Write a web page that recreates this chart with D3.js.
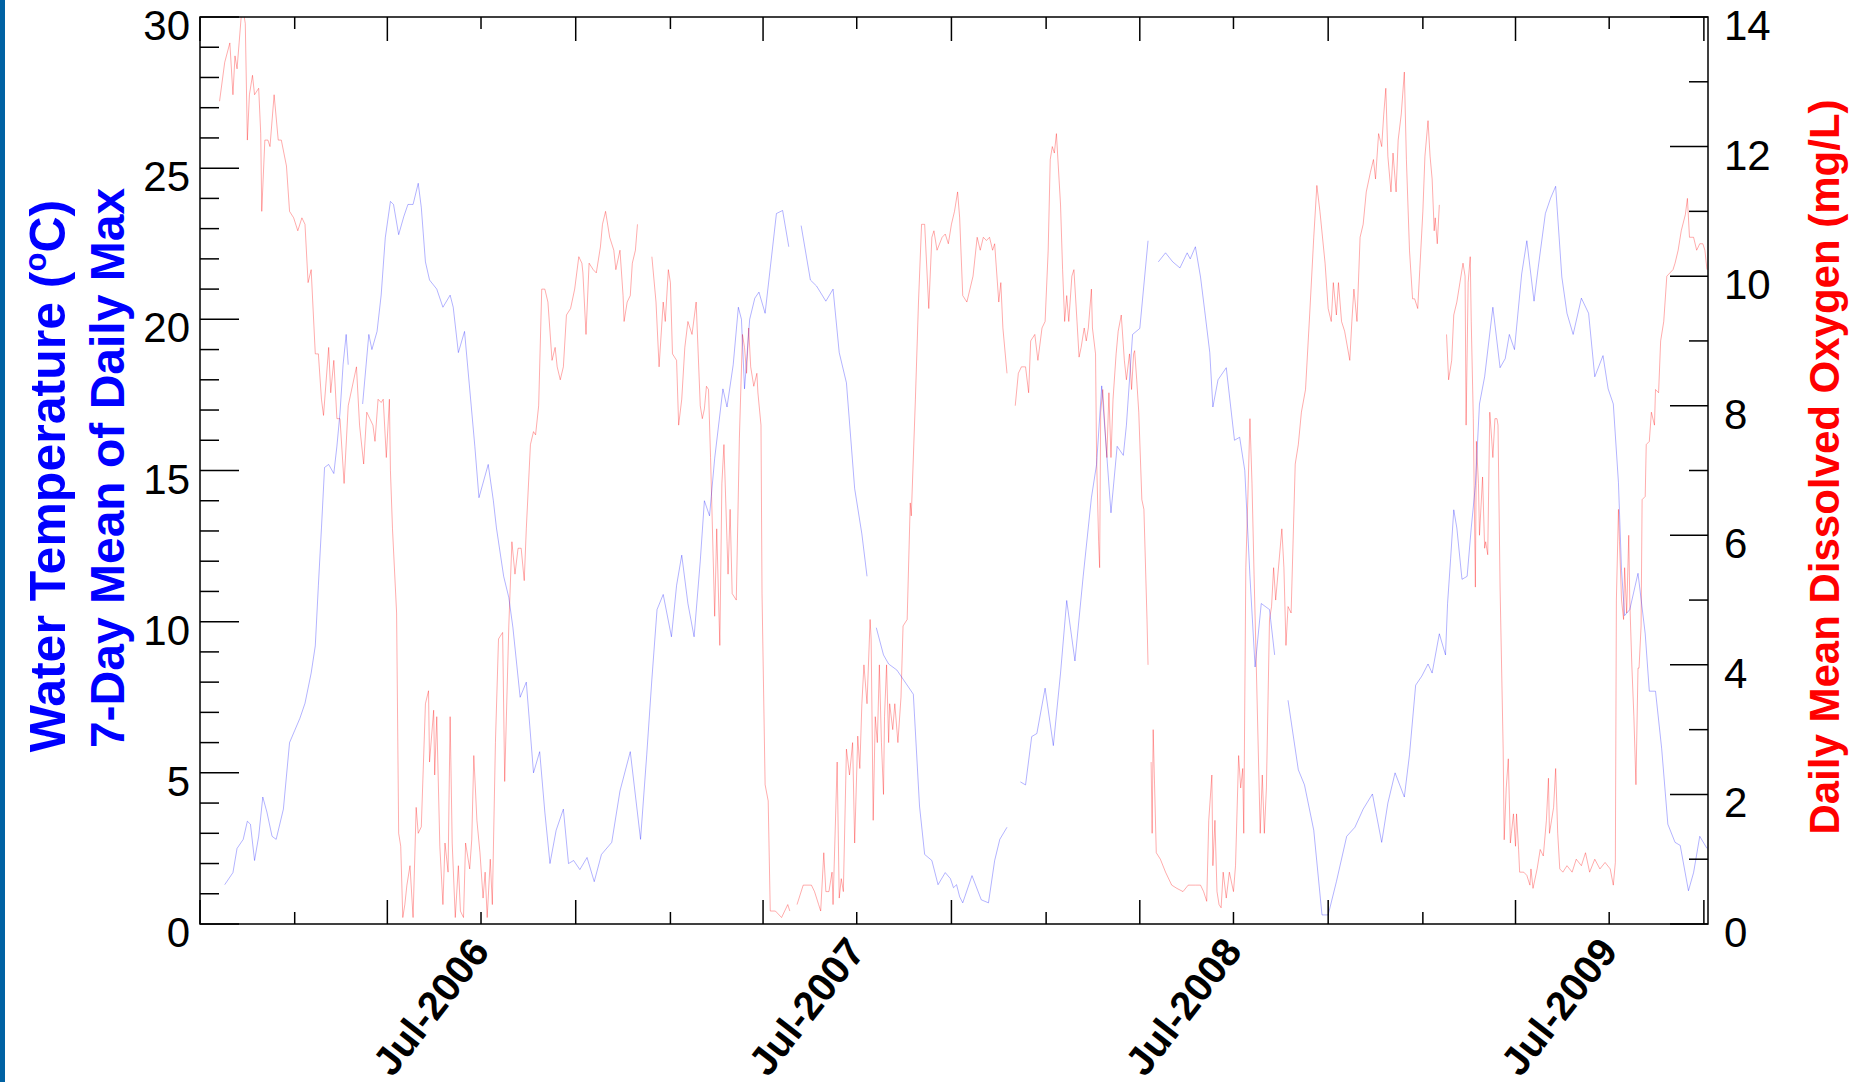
<!DOCTYPE html>
<html>
<head>
<meta charset="utf-8">
<script src="https://cdn.jsdelivr.net/npm/d3@7"></script>
<style>
  body { margin: 0; background: #fff; }
  svg { display: block; font-family: "Liberation Sans", Arial, Helvetica, sans-serif; }
</style>
</head>
<body>
<svg id="chart" width="1854" height="1082"></svg>
<script>
// record starts 1 Oct 2005, values are keyed by day number from there
var startDate = new Date(Date.UTC(2005, 9, 1));
var endDate = new Date(Date.UTC(2009, 9, 5));

// water temperature, 7-day mean of daily max (degC); null = gap in record
var tempDays = [24, 32, 36, 42, 46, 49, 53, 57, 61, 65, 70, 74, 81, 87, 92, 97, 102, 108, 112, 115, 118, 121, 125, 130, 133, 136, 139, 142, 144, 150,
  158, 164, 167, 172, 176, 180, 185, 188, 193, 198, 202, 207, 212, 215, 219, 223, 230, 236, 243, 246, 251, 257, 262, 267, 271, 280, 285, 288, 295, 300,
  304, 311, 317, 324, 330, 335, 340, 346, 353, 358, 363, 369, 376, 383, 390, 400, 408, 418, 428, 434, 439, 444, 450, 458, 463, 468, 474, 480, 486, 490,
  495, 500, 508, 512, 518, 523, 526, 529, 534, 539, 543, 549, 554, 560, 566, 572, 578, 584, 593, 599, 608, 615, 621, 628, 636, 643, 648, 652, 657, 664,
  669, 677, 683, 693, 699, 704, 711, 717, 724, 729, 732, 735, 738, 741, 750, 759, 766, 772, 777, 784, 790, 797, 802, 808, 813, 821, 829, 836, 842, 850,
  858, 866, 871, 876, 885, 891, 897, 900, 906, 913, 921, 926, 931, 938, 945, 952, 959, 962, 967, 972, 976, 981, 984, 989, 997, 1005, 1010, 1015, 1020, 1025,
  1031, 1039, 1044, 1050, 1057, 1067, 1073, 1082, 1090, 1096, 1104, 1114, 1122, 1130, 1139, 1148, 1154, 1161, 1170, 1175, 1181, 1187, 1193, 1197, 1204, 1210, 1212, 1215, 1218, 1221,
  1226, 1231, 1235, 1239, 1243, 1248, 1256, 1263, 1268, 1272, 1277, 1284, 1289, 1296, 1300, 1307, 1312, 1317, 1323, 1328, 1334, 1342, 1349, 1355, 1363, 1368, 1373, 1378, 1381, 1384,
  1389, 1397, 1404, 1408, 1414, 1420, 1426, 1433, 1438, 1446, 1451, 1457, 1464];
var tempValues = [1.3, 1.7, 2.5, 2.8, 3.4, 3.3, 2.1, 2.9, 4.2, 3.7, 2.9, 2.8, 3.8, 6.0, 6.4, 6.8, 7.3, 8.3, 9.2, 11.2, 13.1, 15.1, 15.2, 14.9, 15.8, 16.9, 18.5, 19.5, 18.5, null,
  17.2, 19.5, 19.0, 19.6, 20.8, 22.7, 23.9, 23.8, 22.8, 23.4, 23.8, 23.8, 24.5, 23.7, 21.9, 21.3, 21.0, 20.4, 20.8, 20.4, 18.9, 19.6, 17.7, 15.8, 14.1, 15.2, 14.0, 13.1, 11.5, 10.8,
  9.8, 7.5, 8.0, 5.0, 5.7, 3.7, 2.0, 3.1, 3.8, 2.0, 2.1, 1.8, 2.2, 1.4, 2.3, 2.7, 4.4, 5.7, 2.8, 5.6, 8.1, 10.4, 10.9, 9.5, 11.2, 12.2, 10.6, 9.5, 12.0, 14.0,
  13.5, 15.4, 17.7, 17.1, 18.5, 20.4, 20.0, 17.7, 20.0, 20.7, 20.9, 20.2, 21.7, 23.5, 23.6, 22.4, null, 23.1, 21.3, 21.1, 20.6, 21.0, 18.9, 17.9, 14.4, 12.9, 11.5, null, 9.8, 8.9,
  8.6, 8.4, 8.1, 7.6, 3.9, 2.3, 2.1, 1.3, 1.7, 1.5, 1.2, 1.3, 0.9, 0.7, 1.6, 0.8, 0.7, 2.1, 2.8, 3.2, null, 4.7, 4.6, 6.2, 6.3, 7.8, 5.9, 8.3, 10.7, 8.7,
  11.5, 14.1, 15.2, 17.8, 13.6, 15.8, 15.5, 16.5, 19.5, 19.7, 22.6, null, 21.9, 22.2, 21.9, 21.7, 22.2, 22.0, 22.4, 21.4, 20.3, 18.9, 17.1, 18.0, 18.4, 16.0, 16.1, 15.0, 11.5, 8.5,
  10.6, 10.4, 8.9, null, 7.4, 5.1, 4.6, 3.1, 0.3, 0.3, 1.4, 2.9, 3.2, 3.8, 4.3, 2.7, 4.0, 5.0, 4.2, 5.6, 7.9, 8.2, 8.6, 8.3, 9.6, 8.9, 10.6, 12.1, 13.7, 13.1,
  11.4, 11.5, 13.1, 14.5, 17.2, 18.1, 20.4, 18.4, 18.7, 19.5, 19.0, 21.5, 22.6, 20.6, 21.7, 23.5, 24.0, 24.4, 21.4, 20.2, 19.5, 20.7, 20.2, 18.1, 18.8, 17.7, 17.2, 14.6, 11.7, 10.2,
  10.4, 11.6, 9.6, 7.7, 7.7, 5.8, 3.3, 2.7, 2.6, 1.1, 1.7, 2.9, 2.5];

// daily mean dissolved oxygen (mg/L); null = gap in record
var doDays = [19, 24, 29, 32, 34, 36, 38, 41, 44, 46, 48, 51, 53, 57, 59, 60, 63, 66, 68, 72, 76, 79, 84, 87, 91, 95, 99, 102, 105, 108,
  112, 115, 118, 120, 125, 127, 130, 133, 136, 140, 144, 152, 155, 159, 162, 165, 168, 170, 173, 176, 178, 181, 184, 185, 187, 191, 193, 195, 197, 199,
  201, 204, 207, 210, 212, 215, 219, 222, 223, 227, 228, 230, 233, 236, 238, 241, 243, 245, 248, 251, 253, 256, 258, 262, 264, 266, 269, 272, 275, 277,
  279, 282, 284, 287, 290, 294, 296, 300, 303, 306, 309, 312, 315, 317, 321, 324, 326, 329, 332, 335, 338, 342, 345, 347, 350, 353, 356, 360, 364, 368,
  371, 372, 375, 378, 382, 385, 389, 391, 394, 398, 402, 404, 408, 411, 412, 415, 418, 420, 423, 425, 430, 439, 443, 446, 450, 452, 455, 457, 459, 463,
  465, 468, 471, 474, 478, 482, 484, 486, 488, 490, 492, 494, 496, 497, 500, 502, 505, 507, 509, 512, 513, 515, 517, 521, 524, 527, 529, 531, 533, 535,
  538, 541, 542, 545, 546, 549, 552, 554, 559, 565, 568, 571, 573, 576, 580, 586, 594, 597, 601, 603, 606, 608, 611, 614, 615, 619, 621, 623, 625, 628,
  631, 634, 636, 639, 641, 643, 645, 648, 651, 652, 654, 656, 658, 660, 662, 664, 665, 667, 669, 670, 673, 675, 678, 681, 683, 687, 690, 691, 695, 698,
  701, 704, 708, 711, 713, 716, 721, 724, 727, 730, 733, 736, 738, 741, 745, 748, 751, 755, 758, 761, 764, 767, 770, 772, 776, 778, 780, 784, 788, 792,
  795, 798, 802, 805, 807, 811, 814, 818, 821, 824, 826, 828, 830, 832, 836, 838, 840, 842, 844, 847, 849, 852, 854, 856, 859, 861, 863, 866, 867, 870,
  871, 873, 874, 875, 877, 879, 881, 883, 885, 887, 890, 892, 895, 898, 900, 903, 905, 907, 908, 910, 912, 915, 917, 920, 921, 922, 924, 925, 926, 929,
  933, 938, 944, 949, 955, 960, 967, 972, 975, 978, 980, 983, 984, 986, 988, 990, 992, 994, 997, 1000, 1004, 1006, 1009, 1011, 1013, 1014, 1016, 1018, 1020, 1022,
  1024, 1026, 1030, 1032, 1034, 1036, 1039, 1041, 1043, 1045, 1051, 1053, 1055, 1057, 1060, 1064, 1067, 1070, 1074, 1078, 1082, 1085, 1088, 1093, 1096, 1099, 1101, 1104, 1106, 1109,
  1112, 1117, 1119, 1121, 1124, 1127, 1130, 1133, 1137, 1140, 1142, 1145, 1148, 1150, 1152, 1154, 1157, 1159, 1162, 1164, 1167, 1170, 1172, 1175, 1178, 1180, 1183, 1185, 1188, 1190,
  1193, 1195, 1197, 1199, 1200, 1202, 1204, 1207, 1211, 1213, 1216, 1218, 1221, 1224, 1227, 1229, 1230, 1232, 1234, 1235, 1237, 1239, 1240, 1242, 1243, 1246, 1248, 1249, 1251, 1253,
  1255, 1256, 1258, 1260, 1261, 1263, 1266, 1267, 1269, 1271, 1273, 1274, 1276, 1278, 1279, 1281, 1282, 1286, 1289, 1292, 1293, 1295, 1299, 1302, 1305, 1308, 1310, 1311, 1313, 1315,
  1317, 1319, 1321, 1324, 1328, 1333, 1337, 1342, 1346, 1350, 1355, 1360, 1365, 1370, 1373, 1375, 1376, 1378, 1379, 1381, 1383, 1384, 1386, 1388, 1389, 1391, 1393, 1395, 1397, 1398,
  1400, 1401, 1404, 1405, 1408, 1410, 1413, 1414, 1417, 1419, 1422, 1425, 1428, 1431, 1433, 1436, 1439, 1443, 1445, 1447, 1451, 1454, 1457, 1460, 1462, 1464];
var doValues = [12.7, 13.3, 13.6, 12.8, 13.4, 13.2, 13.6, 14.2, 13.9, 12.1, 12.8, 13.1, 12.8, 12.9, 12.2, 11.0, 12.1, 12.1, 12.0, 12.8, 12.1, 12.1, 11.7, 11.0, 10.9, 10.7, 10.9, 10.8, 9.9, 10.1,
  8.8, 8.8, 8.1, 7.85, 8.9, 8.2, 8.7, 7.8, 7.8, 6.8, 8.0, 8.6, 7.7, 7.1, 7.9, 7.8, 7.7, 7.45, 8.1, 8.05, 8.1, 7.2, 8.1, 7.0, 6.1, 4.8, 1.4, 1.2, 0.1, 0.3,
  0.6, 0.9, 0.1, 1.8, 1.4, 1.5, 3.4, 3.6, 2.5, 3.3, 2.3, 3.2, 1.2, 0.3, 1.25, 0.8, 3.2, 1.25, 0.1, 0.9, 0.2, 0.1, 1.25, 0.85, 1.3, 2.6, 1.6, 1.1, 0.4, 0.8,
  0.1, 1.0, 0.3, 2.8, 4.4, 4.5, 2.2, 4.6, 5.9, 5.4, 5.8, 5.8, 5.3, 6.1, 7.4, 7.6, 7.55, 8.0, 9.8, 9.8, 9.6, 8.7, 8.9, 8.6, 8.4, 8.6, 9.4, 9.5, 9.8, 10.3,
  10.2, 10.05, 9.1, 10.2, 10.1, 10.05, 10.45, 10.8, 11.0, 10.6, 10.4, 10.1, 10.4, 9.7, 9.3, 9.6, 9.7, 10.2, 10.4, 10.8, null, 10.3, 9.6, 8.6, 9.6, 9.3, 10.1, 9.9, 8.8, 8.7,
  7.7, 8.1, 8.9, 9.3, 9.1, 9.6, 8.8, 8.0, 7.8, 7.95, 8.3, 8.25, 7.2, 6.6, 4.75, 6.1, 4.3, 6.8, 7.4, 5.9, 5.4, 6.4, 5.1, 5.0, 7.5, 9.1, 8.9, 8.5, 9.2, 8.6,
  8.3, 8.5, 8.2, 7.7, 5.1, 2.15, 1.9, 0.2, 0.2, 0.1, 0.2, 0.3, 0.2, null, 0.3, 0.6, 0.6, 0.5, 0.3, 0.2, 1.1, 0.5, 0.5, 0.8, 0.3, 2.5, 0.4, 0.7, 0.5, 2.7,
  2.3, 2.8, 1.25, 2.9, 2.4, 3.4, 4.0, 3.4, 4.7, 4.4, 1.6, 3.2, 2.8, 4.0, 2.8, 2.0, 3.2, 4.0, 2.8, 3.4, 3.0, 3.4, 2.8, 3.5, 4.6, 4.7, 6.5, 6.3, 8.1, 9.6,
  10.8, 10.8, 9.5, 10.6, 10.7, 10.4, 10.6, 10.65, 10.5, 10.8, 11.0, 11.3, 10.9, 9.7, 9.6, 9.8, 10.0, 10.6, 10.4, 10.6, 10.55, 10.6, 10.4, 10.5, 9.6, 9.9, 9.2, 8.5, null, 8.0,
  8.5, 8.6, 8.6, 8.2, 9.0, 9.1, 8.7, 9.2, 9.3, 10.4, 11.8, 12.0, 11.9, 12.2, 11.1, 10.1, 9.3, 9.7, 9.3, 10.0, 10.1, 9.3, 8.75, 8.9, 9.2, 9.0, 9.2, 9.8, 9.2, 8.8,
  7.2, 5.9, 5.5, 7.9, 8.25, 7.7, 7.2, 8.2, 7.2, 8.1, 8.8, 9.15, 9.4, 8.7, 8.4, 8.8, 8.25, 8.8, 8.85, 8.4, 7.9, 6.55, 6.4, 4.7, 4.0, null, 2.5, 1.4, 3.0, 1.1,
  1.0, 0.8, 0.6, 0.55, 0.5, 0.6, 0.6, 0.6, 0.5, 0.35, 1.6, 2.3, 0.9, 1.6, 0.5, 0.3, 0.25, 0.8, 0.4, 0.8, 0.5, 0.9, 2.6, 2.1, 2.4, 1.4, 5.5, 6.6, 7.8, 6.8,
  5.4, 4.1, 1.4, 2.3, 1.4, 2.1, 4.7, 4.9, 5.5, 5.0, 6.1, 5.5, 4.3, 4.9, 4.8, 7.1, 7.4, 7.9, 8.25, 9.4, 10.6, 11.4, 11.0, 10.2, 9.5, 9.3, 9.9, 9.4, 9.9, 9.3,
  9.15, 8.7, 9.3, 9.8, 9.3, 10.6, 10.8, 11.3, 11.6, 11.8, 11.5, 12.2, 12.0, 12.5, 12.9, 11.85, 11.3, 11.9, 11.3, 12.1, 12.5, 13.15, 11.8, 10.4, 9.65, 9.65, 9.5, 10.1, 11.0, 11.85,
  12.4, 11.85, 11.5, 10.7, 10.9, 10.5, 11.1, null, 9.1, 8.4, 8.7, 9.4, 9.6, 9.9, 10.2, 10.0, 7.7, 9.9, 10.3, 9.3, 7.8, 5.2, 7.45, 6.8, 6.0, 6.9, 5.8, 5.9, 5.7, 7.9,
  7.45, 7.2, 7.8, 7.8, 7.7, 5.2, 2.7, 1.3, 2.1, 2.55, 1.25, 1.4, 1.7, 1.2, 1.7, 1.15, 0.8, 0.8, 0.75, 0.6, 0.85, 0.55, 0.85, 1.15, 1.05, 1.6, 2.25, 1.4, 1.6, 1.8,
  2.4, 1.4, 0.85, 0.8, 0.9, 0.8, 1.0, 0.9, 1.1, 0.8, 1.0, 0.85, 0.95, 0.85, 0.6, 0.95, 5.0, 6.4, 5.9, 5.0, 4.7, 5.5, 4.8, 6.0, 5.0, 4.0, 3.2, 2.15, 3.95, 3.95,
  4.6, 6.55, 6.6, 7.4, 7.45, 7.9, 7.7, 8.25, 8.2, 9.0, 9.3, 10.0, 10.05, 10.1, 10.2, 10.4, 10.7, 10.95, 11.2, 10.6, 10.6, 10.4, 10.5, 10.5, 10.4, 10.1];

var tempTicks = [0, 5, 10, 15, 20, 25, 30];
var doTicks = [0, 2, 4, 6, 8, 10, 12, 14];

var svg = d3.select("#chart");
var margin = { left: 200, right: 1708, top: 17, bottom: 924 };

// thin blue strip on the page edge
svg.append("rect").attr("x", 0).attr("y", 0).attr("width", 5).attr("height", 1082).attr("fill", "#0062a3");

var x = d3.scaleUtc().domain([startDate, endDate]).range([margin.left, margin.right]);
var yT = d3.scaleLinear().domain([0, 30]).range([margin.bottom, margin.top]);
var yO = d3.scaleLinear().domain([0, 14]).range([margin.bottom, margin.top]);

function dayToDate(d) { return d3.utcDay.offset(startDate, d); }

svg.append("clipPath").attr("id", "plotClip")
    .append("rect")
    .attr("x", margin.left).attr("y", margin.top)
    .attr("width", margin.right - margin.left).attr("height", margin.bottom - margin.top);

var tempData = tempDays.map(function (d, i) { return { date: dayToDate(d), v: tempValues[i] }; });
var doData = doDays.map(function (d, i) { return { date: dayToDate(d), v: doValues[i] }; });

var lineT = d3.line()
    .defined(function (d) { return d.v !== null; })
    .x(function (d) { return x(d.date); })
    .y(function (d) { return yT(d.v); });
var lineO = d3.line()
    .defined(function (d) { return d.v !== null; })
    .x(function (d) { return x(d.date); })
    .y(function (d) { return yO(d.v); });

// both series are drawn very thin and pale, as in the original
var plot = svg.append("g").attr("clip-path", "url(#plotClip)");
plot.append("path").datum(doData)
    .attr("d", lineO).attr("fill", "none")
    .attr("stroke", "#ff0000").attr("stroke-width", 0.6).attr("stroke-opacity", 0.55);
plot.append("path").datum(tempData)
    .attr("d", lineT).attr("fill", "none")
    .attr("stroke", "#0000ff").attr("stroke-width", 0.6).attr("stroke-opacity", 0.5);

// frame
svg.append("rect")
    .attr("x", margin.left).attr("y", margin.top)
    .attr("width", margin.right - margin.left).attr("height", margin.bottom - margin.top)
    .attr("fill", "none").attr("stroke", "#000").attr("stroke-width", 1.5);

var axes = svg.append("g").attr("stroke", "#000").attr("stroke-width", 1.5);

// left axis: major every 5, minor every 1
d3.range(0, 31).forEach(function (v) {
    var len = v % 5 === 0 ? 39 : 19;
    axes.append("line").attr("x1", margin.left).attr("x2", margin.left + len)
        .attr("y1", yT(v)).attr("y2", yT(v));
});
// right axis: major every 2, minor every 1
d3.range(0, 15).forEach(function (v) {
    var len = v % 2 === 0 ? 38 : 19;
    axes.append("line").attr("x1", margin.right).attr("x2", margin.right - len)
        .attr("y1", yO(v)).attr("y2", yO(v));
});
// date axis: quarterly ticks, long on Apr/Oct, short on Jan/Jul
var quarterTicks = d3.utcMonth.every(3).range(startDate, endDate);
quarterTicks.forEach(function (t) {
    var len = (t.getUTCMonth() === 3 || t.getUTCMonth() === 9) ? 24 : 12;
    axes.append("line").attr("x1", x(t)).attr("x2", x(t)).attr("y1", margin.bottom).attr("y2", margin.bottom - len);
    axes.append("line").attr("x1", x(t)).attr("x2", x(t)).attr("y1", margin.top).attr("y2", margin.top + len);
});

svg.append("g").selectAll("text").data(tempTicks).enter().append("text")
    .attr("x", 190).attr("y", function (d) { return yT(d) + 23; })
    .attr("text-anchor", "end").attr("font-size", 42)
    .text(function (d) { return d; });

svg.append("g").selectAll("text").data(doTicks).enter().append("text")
    .attr("x", 1724).attr("y", function (d) { return yO(d) + 23; })
    .attr("text-anchor", "start").attr("font-size", 42)
    .text(function (d) { return d; });

var julyTicks = quarterTicks.filter(function (t) { return t.getUTCMonth() === 6; });
var fmt = d3.utcFormat("%b-%Y");
svg.append("g").selectAll("text").data(julyTicks).enter().append("text")
    .attr("transform", function (d) { return "translate(" + (x(d) + 10) + "," + (margin.bottom + 28) + ") rotate(-52)"; })
    .attr("text-anchor", "end").attr("font-size", 40).attr("font-weight", "bold")
    .text(function (d) { return fmt(d); });

// axis titles
var leftTitle = svg.append("g").attr("fill", "#0000ff").attr("font-weight", "bold").attr("font-size", 50);
var t1 = leftTitle.append("text").attr("text-anchor", "middle")
    .attr("transform", "translate(65,476) rotate(-90)");
t1.append("tspan").text("Water Temperature (");
t1.append("tspan").attr("font-size", 31).attr("dy", -19).text("o");
t1.append("tspan").attr("dy", 19).text("C)");
leftTitle.append("text").attr("text-anchor", "middle").attr("font-size", 48)
    .attr("transform", "translate(124,468) rotate(-90)")
    .text("7-Day Mean of Daily Max");

svg.append("text").attr("fill", "#ff0000").attr("font-weight", "bold").attr("font-size", 42)
    .attr("text-anchor", "middle")
    .attr("transform", "translate(1839,467) rotate(-90)")
    .text("Daily Mean Dissolved Oxygen (mg/L)");
</script>
</body>
</html>
